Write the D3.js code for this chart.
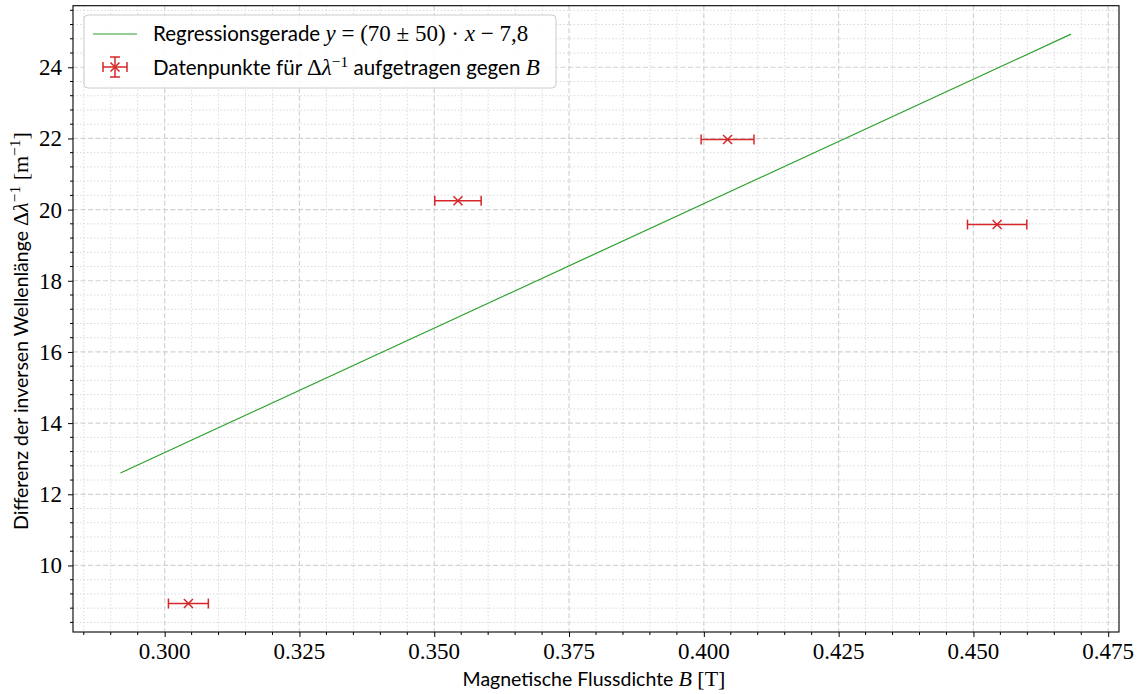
<!DOCTYPE html>
<html><head><meta charset="utf-8">
<script src="https://cdn.jsdelivr.net/npm/d3@7"></script>
<style>
body{margin:0;background:#fff;}
svg{display:block;}
</style></head>
<body>
<svg id="chart" width="1142" height="694"></svg>
<script>
// ---- data ----
const fluxB = [0.3044, 0.3544, 0.4044, 0.4544];
const invLambdaDiff = [8.93, 20.25, 21.97, 19.58];
const fluxBErr = [0.0037, 0.0043, 0.0049, 0.0055];
const regB = [0.2918, 0.4681];
const regY = [12.60, 24.93];
const xTicks = [0.300, 0.325, 0.350, 0.375, 0.400, 0.425, 0.450, 0.475];
const yTicks = [10, 12, 14, 16, 18, 20, 22, 24];
const xDomain = [0.2830, 0.4770];
const yDomain = [8.13, 25.73];

const RED = "#d62728", GREEN = "#2ca02c";
const SERIF = "Liberation Serif, DejaVu Serif, serif";
const SANS = "Lato, Liberation Sans, sans-serif";

const svg = d3.select("#chart");
const L = 73, R = 1119, T = 5.7, B = 632;
const x = d3.scaleLinear().domain(xDomain).range([L, R]);
const y = d3.scaleLinear().domain(yDomain).range([B, T]);

const xMinor = d3.range(0.285, 0.4771, 0.005).filter(v => !xTicks.some(t => Math.abs(t - v) < 1e-6));
const yMinor = d3.range(8.4, 25.7, 0.4).filter(v => !yTicks.some(t => Math.abs(t - v) < 1e-6));

// grid
const g = svg.append("g");
g.selectAll(".xm").data(xMinor).join("line")
  .attr("x1", d => x(d)).attr("x2", d => x(d)).attr("y1", T).attr("y2", B)
  .attr("stroke", "#dadada").attr("stroke-width", 1).attr("stroke-dasharray", "1.5,2");
g.selectAll(".ym").data(yMinor).join("line")
  .attr("y1", d => y(d)).attr("y2", d => y(d)).attr("x1", L).attr("x2", R)
  .attr("stroke", "#dadada").attr("stroke-width", 1).attr("stroke-dasharray", "1.5,2");
g.selectAll(".xM").data(xTicks).join("line")
  .attr("x1", d => x(d)).attr("x2", d => x(d)).attr("y1", T).attr("y2", B)
  .attr("stroke", "#d2d2d2").attr("stroke-width", 1.2).attr("stroke-dasharray", "5,2.5");
g.selectAll(".yM").data(yTicks).join("line")
  .attr("y1", d => y(d)).attr("y2", d => y(d)).attr("x1", L).attr("x2", R)
  .attr("stroke", "#d2d2d2").attr("stroke-width", 1.2).attr("stroke-dasharray", "5,2.5");

// regression line
svg.append("path")
  .datum(regB.map((b, i) => [b, regY[i]]))
  .attr("d", d3.line().x(d => x(d[0])).y(d => y(d[1])))
  .attr("fill", "none").attr("stroke", GREEN).attr("stroke-width", 1.2);

// error bars + markers
const pts = fluxB.map((b, i) => ({b, v: invLambdaDiff[i], e: fluxBErr[i]}));
const pg = svg.append("g");
pts.forEach(p => {
  const cy = y(p.v), x0 = x(p.b - p.e), x1 = x(p.b + p.e), cx = x(p.b);
  pg.append("line").attr("x1", x0).attr("x2", x1).attr("y1", cy).attr("y2", cy)
    .attr("stroke", RED).attr("stroke-width", 1.5);
  [x0, x1].forEach(xx => pg.append("line").attr("x1", xx).attr("x2", xx)
    .attr("y1", cy - 5).attr("y2", cy + 5).attr("stroke", RED).attr("stroke-width", 1.5));
  const s = 4.5;
  pg.append("path").attr("d", `M${cx - s},${cy - s}L${cx + s},${cy + s}M${cx - s},${cy + s}L${cx + s},${cy - s}`)
    .attr("stroke", RED).attr("stroke-width", 1.5).attr("fill", "none");
});

// axes (tick marks via d3 axis, labels drawn separately)
const xAxis = svg.append("g").attr("transform", `translate(0,${B})`)
  .call(d3.axisBottom(x).tickValues(xTicks).tickFormat("").tickSize(5));
const yAxis = svg.append("g").attr("transform", `translate(${L},0)`)
  .call(d3.axisLeft(y).tickValues(yTicks).tickFormat("").tickSize(5));
[xAxis, yAxis].forEach(a => {
  a.select(".domain").remove();
  a.selectAll("line").attr("stroke", "#000");
});
const fx = d3.format(".3f"), fy = d3.format("d");
svg.append("g").selectAll("text").data(xTicks).join("text")
  .attr("font-family", SERIF).attr("font-size", 23)
  .attr("x", d => x(d)).attr("y", B + 27)
  .attr("text-anchor", "middle").attr("fill", "#000").text(d => fx(d));
svg.append("g").selectAll("text").data(yTicks).join("text")
  .attr("font-family", SERIF).attr("font-size", 23)
  .attr("x", L - 11).attr("y", d => y(d) + 8)
  .attr("text-anchor", "end").attr("fill", "#000").text(d => fy(d));

svg.append("g").selectAll("line").data(xMinor).join("line")
  .attr("x1", d => x(d)).attr("x2", d => x(d)).attr("y1", B).attr("y2", B + 3).attr("stroke", "#000");
svg.append("g").selectAll("line").data(yMinor).join("line")
  .attr("y1", d => y(d)).attr("y2", d => y(d)).attr("x1", L).attr("x2", L - 3).attr("stroke", "#000");

// frame
svg.append("rect").attr("x", L).attr("y", T).attr("width", R - L).attr("height", B - T)
  .attr("fill", "none").attr("stroke", "#000").attr("stroke-width", 1.1);

function mathSpan(sel, txt, opts = {}) {
  const t = sel.append("tspan").attr("font-family", SERIF).attr("font-size", opts.size || 23)
    .attr("font-style", opts.italic ? "italic" : "normal").text(txt);
  if (opts.dy) t.attr("dy", opts.dy);
  return t;
}

// axis labels
const xl = svg.append("text").attr("font-family", SANS).attr("font-size", 19.5)
  .attr("x", 594).attr("y", 686).attr("text-anchor", "middle").attr("fill", "#000");
xl.append("tspan").text("Magnetische Flussdichte ");
mathSpan(xl, "B", {italic: true, size: 22});
mathSpan(xl, " [T]", {size: 22});

const yl = svg.append("text").attr("font-family", SANS).attr("font-size", 19.5)
  .attr("transform", `translate(28,331) rotate(-90)`).attr("text-anchor", "middle").attr("fill", "#000");
yl.append("tspan").text("Differenz der inversen Wellenlänge ");
mathSpan(yl, "Δ", {size: 22});
mathSpan(yl, "λ", {italic: true, size: 22});
mathSpan(yl, "−1", {size: 15.5, dy: -8});
mathSpan(yl, " [m", {dy: 8, size: 22});
mathSpan(yl, "−1", {size: 15.5, dy: -8});
mathSpan(yl, "]", {dy: 8, size: 22});

// legend
const lg = svg.append("g");
lg.append("rect").attr("x", 84).attr("y", 15).attr("width", 472).attr("height", 73).attr("rx", 4)
  .attr("fill", "#fff").attr("fill-opacity", 0.85).attr("stroke", "#cccccc").attr("stroke-width", 1);
lg.append("line").attr("x1", 93).attr("x2", 137).attr("y1", 34).attr("y2", 34)
  .attr("stroke", GREEN).attr("stroke-width", 1.2);
const t1 = lg.append("text").attr("font-family", SANS).attr("font-size", 20.5)
  .attr("x", 153).attr("y", 41).attr("fill", "#000");
t1.append("tspan").text("Regressionsgerade ");
mathSpan(t1, "y", {italic: true});
mathSpan(t1, " = (70 ± 50) · ");
mathSpan(t1, "x", {italic: true});
mathSpan(t1, " − 7,8");

const ex = 115, ey = 67;
[[103, 127, ey, ey], [ex, ex, 57, 77], [103, 103, 62, 72], [127, 127, 62, 72], [110, 120, 57, 57], [110, 120, 77, 77]]
  .forEach(([a, b, c, d]) => lg.append("line")
  .attr("x1", a).attr("x2", b).attr("y1", c).attr("y2", d).attr("stroke", RED).attr("stroke-width", 1.5));
lg.append("path").attr("d", `M${ex - 4.5},${ey - 4.5}L${ex + 4.5},${ey + 4.5}M${ex - 4.5},${ey + 4.5}L${ex + 4.5},${ey - 4.5}`)
  .attr("stroke", RED).attr("stroke-width", 1.5);
const t2 = lg.append("text").attr("font-family", SANS).attr("font-size", 20.5)
  .attr("x", 153).attr("y", 75).attr("fill", "#000");
t2.append("tspan").text("Datenpunkte für ");
mathSpan(t2, "Δ");
mathSpan(t2, "λ", {italic: true});
mathSpan(t2, "−1", {size: 15.5, dy: -8});
t2.append("tspan").attr("dy", 8).text(" aufgetragen gegen ");
mathSpan(t2, "B", {italic: true});
</script>
</body></html>
